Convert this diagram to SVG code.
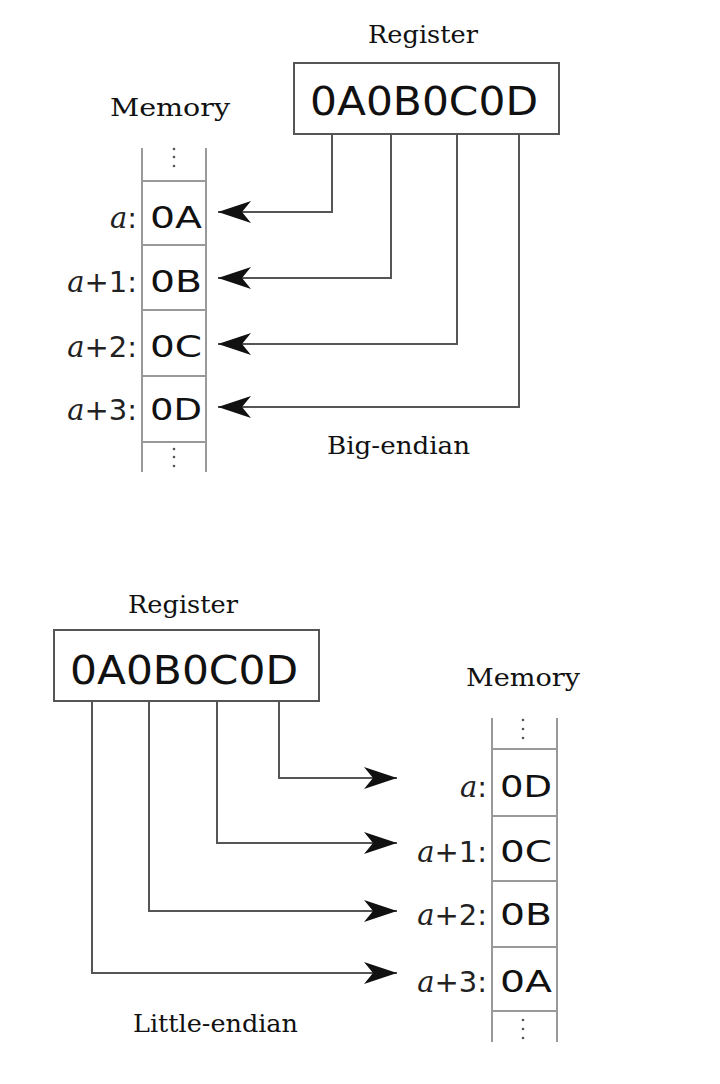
<svg xmlns="http://www.w3.org/2000/svg" width="720" height="1084" viewBox="0 0 720 1084">
<style>
.serif{font-family:"DejaVu Serif","Liberation Serif",serif;font-size:25px;fill:#111}
.reg{font-family:"DejaVu Sans","Liberation Sans",sans-serif;font-size:39px;fill:#111}
.cell{font-family:"DejaVu Sans","Liberation Sans",sans-serif;font-size:31px;fill:#111}
.lbl{font-family:"DejaVu Sans","Liberation Sans",sans-serif;font-size:29px;fill:#222;text-anchor:end}
.ia{font-family:"DejaVu Serif","Liberation Serif",serif;font-style:italic}
.box{fill:#fff;stroke:#555;stroke-width:2}
.mem{stroke:#999;stroke-width:2;fill:none}
.con{fill:none;stroke:#555;stroke-width:2}
.dot{fill:#555}
</style>
<defs>
<marker id="ah" markerUnits="userSpaceOnUse" markerWidth="40" markerHeight="30" refX="33" refY="12" orient="auto" viewBox="0 0 40 30">
<path d="M0,1 L33,12 L0,23 L9,12 Z" fill="#111"/>
</marker>
</defs>

<!-- Big-endian section -->
<g id="reg-top">
<text class="serif" x="368" y="43" textLength="110" lengthAdjust="spacingAndGlyphs">Register</text>
<rect class="box" x="294" y="63" width="265" height="71"/>
<text class="reg" x="310" y="115" textLength="228" lengthAdjust="spacingAndGlyphs">0A0B0C0D</text>
</g>

<g id="mem-top">
<text class="serif" x="110" y="116" textLength="120" lengthAdjust="spacingAndGlyphs">Memory</text>
<path class="mem" d="M142,148 V472 M206,148 V472 M142,181 H206 M142,245 H206 M142,310 H206 M142,376 H206 M142,442 H206"/>
<circle class="dot" cx="174" cy="149" r="1.3"/><circle class="dot" cx="174" cy="157" r="1.3"/><circle class="dot" cx="174" cy="166" r="1.3"/>
<circle class="dot" cx="174" cy="449" r="1.3"/><circle class="dot" cx="174" cy="457" r="1.3"/><circle class="dot" cx="174" cy="466" r="1.3"/>
<text class="cell" x="150" y="228" textLength="52" lengthAdjust="spacingAndGlyphs">0A</text>
<text class="cell" x="150" y="292" textLength="52" lengthAdjust="spacingAndGlyphs">0B</text>
<text class="cell" x="150" y="357" textLength="52" lengthAdjust="spacingAndGlyphs">0C</text>
<text class="cell" x="150" y="420" textLength="52" lengthAdjust="spacingAndGlyphs">0D</text>
<text class="lbl" x="137" y="228"><tspan class="ia">a</tspan>:</text>
<text class="lbl" x="137" y="292"><tspan class="ia">a</tspan>+1:</text>
<text class="lbl" x="137" y="357"><tspan class="ia">a</tspan>+2:</text>
<text class="lbl" x="137" y="420"><tspan class="ia">a</tspan>+3:</text>
</g>

<g id="label-big">
<text class="serif" x="327" y="454" textLength="143" lengthAdjust="spacingAndGlyphs">Big-endian</text>
</g>

<!-- Little-endian section -->
<g id="reg-bottom">
<text class="serif" x="128" y="613" textLength="110" lengthAdjust="spacingAndGlyphs">Register</text>
<rect class="box" x="54" y="630" width="265" height="71"/>
<text class="reg" x="70" y="684" textLength="228" lengthAdjust="spacingAndGlyphs">0A0B0C0D</text>
</g>

<g id="mem-bottom">
<text class="serif" x="466" y="686" textLength="114" lengthAdjust="spacingAndGlyphs">Memory</text>
<path class="mem" d="M492,718 V1042 M557,718 V1042 M492,749 H557 M492,816 H557 M492,881 H557 M492,947 H557 M492,1011 H557"/>
<circle class="dot" cx="523" cy="720" r="1.3"/><circle class="dot" cx="523" cy="729" r="1.3"/><circle class="dot" cx="523" cy="738" r="1.3"/>
<circle class="dot" cx="523" cy="1020" r="1.3"/><circle class="dot" cx="523" cy="1029" r="1.3"/><circle class="dot" cx="523" cy="1038" r="1.3"/>
<text class="cell" x="500" y="797" textLength="52" lengthAdjust="spacingAndGlyphs">0D</text>
<text class="cell" x="500" y="862" textLength="52" lengthAdjust="spacingAndGlyphs">0C</text>
<text class="cell" x="500" y="925" textLength="52" lengthAdjust="spacingAndGlyphs">0B</text>
<text class="cell" x="500" y="992" textLength="52" lengthAdjust="spacingAndGlyphs">0A</text>
<text class="lbl" x="487" y="797"><tspan class="ia">a</tspan>:</text>
<text class="lbl" x="487" y="862"><tspan class="ia">a</tspan>+1:</text>
<text class="lbl" x="487" y="925"><tspan class="ia">a</tspan>+2:</text>
<text class="lbl" x="487" y="992"><tspan class="ia">a</tspan>+3:</text>
</g>

<g id="label-little">
<text class="serif" x="133" y="1032" textLength="165" lengthAdjust="spacingAndGlyphs">Little-endian</text>
</g>

<g id="connectors">
<path class="con" d="M332,134 V212 H218" marker-end="url(#ah)"/>
<path class="con" d="M391,134 V278 H218" marker-end="url(#ah)"/>
<path class="con" d="M457,134 V344 H218" marker-end="url(#ah)"/>
<path class="con" d="M519,134 V407 H218" marker-end="url(#ah)"/>
<path class="con" d="M279,701 V778 H397" marker-end="url(#ah)"/>
<path class="con" d="M217,701 V843 H397" marker-end="url(#ah)"/>
<path class="con" d="M149,701 V911 H397" marker-end="url(#ah)"/>
<path class="con" d="M92,701 V973 H397" marker-end="url(#ah)"/>
</g>
</svg>
